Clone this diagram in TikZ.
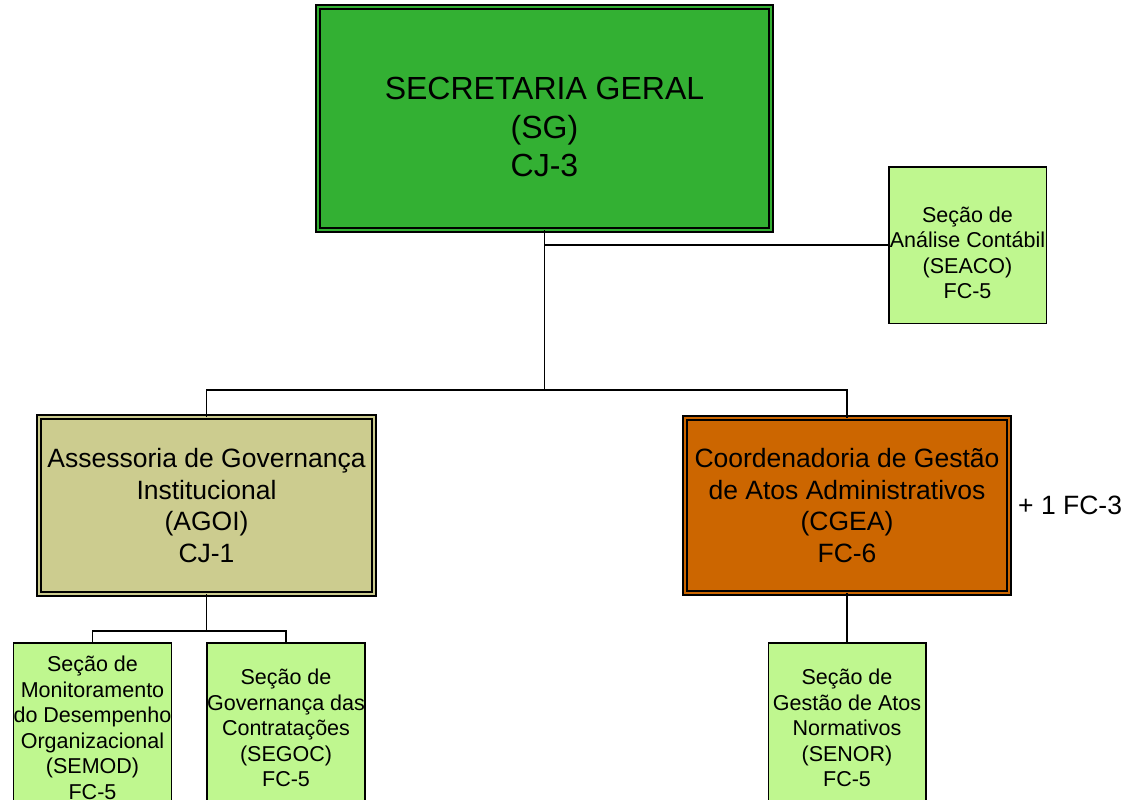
\documentclass[tikz,border=0pt]{standalone}
\usepackage{fontspec}
\setmainfont{Liberation Sans}
\definecolor{sggreen}{RGB}{51,176,51}
\definecolor{agoifill}{RGB}{204,204,143}
\definecolor{cgeafill}{RGB}{204,102,0}
\definecolor{secfill}{RGB}{191,247,143}
\tikzset{
  dbox/.style={draw=black, line width=1.8pt, double distance=2.4pt, inner sep=0pt, outer sep=0pt, align=center},
  bigtext/.style={font=\fontsize{26.5}{31.5}\selectfont},
  sectext/.style={align=center, inner sep=0pt, font=\fontsize{21.5}{25.5}\selectfont},
  secbox/.style={draw=black, line width=1.5pt, fill=secfill, minimum width=157.5pt, inner sep=0pt, outer sep=0pt, sectext},
  link/.style={line width=1.6pt, draw=black},
}
\begin{document}
\begin{tikzpicture}[x=1pt,y=-1pt]
\useasboundingbox (0,0) rectangle (1127,800);
\clip (0,0) rectangle (1127,800);
\fill[white] (0,0) rectangle (1127,800);

% boxes
\node[dbox, fill=sggreen, double=sggreen, minimum width=453pt, minimum height=223pt] (sg) at (544.5,118.5) {};
\node[align=center, inner sep=0pt, font=\fontsize{32}{38.5}\selectfont] (sgt) at (544.5,127) {SECRETARIA GERAL\\(SG)\\CJ-3};

\node[secbox, minimum height=156.5pt] (seaco) at (967.5,245) {};
\node[sectext] (seacot) at (967.5,253) {Seção de\\Análise Contábil\\(SEACO)\\FC-5};

\node[dbox, bigtext, fill=agoifill, double=agoifill, minimum width=335pt, minimum height=177pt] (agoi) at (206.5,505.5) {Assessoria de Governança\\Institucional\\(AGOI)\\CJ-1};
\node[dbox, bigtext, fill=cgeafill, double=cgeafill, minimum width=324pt, minimum height=175pt] (cgea) at (847,505.5) {Coordenadoria de Gestão\\de Atos Administrativos\\(CGEA)\\FC-6};
\node[bigtext, anchor=west, inner sep=0pt] (plus) at (1018,505) {+ 1 FC-3};

\node[secbox, minimum height=170.5pt] (semod) at (92.5,728) {Seção de\\Monitoramento\\do Desempenho\\Organizacional\\(SEMOD)\\FC-5};
\node[secbox, minimum height=170.5pt] (segoc) at (286,728) {Seção de\\Governança das\\Contratações\\(SEGOC)\\FC-5};
\node[secbox, minimum height=170.5pt] (senor) at (847,728) {Seção de\\Gestão de Atos\\Normativos\\(SENOR)\\FC-5};

% connectors
\coordinate (bus1) at (0,390);
\coordinate (bus2) at (0,631);
\draw[link] (sg.south) -- (sg.south |- bus1);
\draw[link] (sg.south |- seaco.west) -- (seaco.west);
\draw[link] (agoi.north) |- (cgea.north |- bus1) -- (cgea.north);
\draw[link] (agoi.south) -- (agoi.south |- bus2);
\draw[link] (semod.north) |- (segoc.north |- bus2) -- (segoc.north);
\draw[link] (cgea.south) -- (senor.north);
\end{tikzpicture}
\end{document}
